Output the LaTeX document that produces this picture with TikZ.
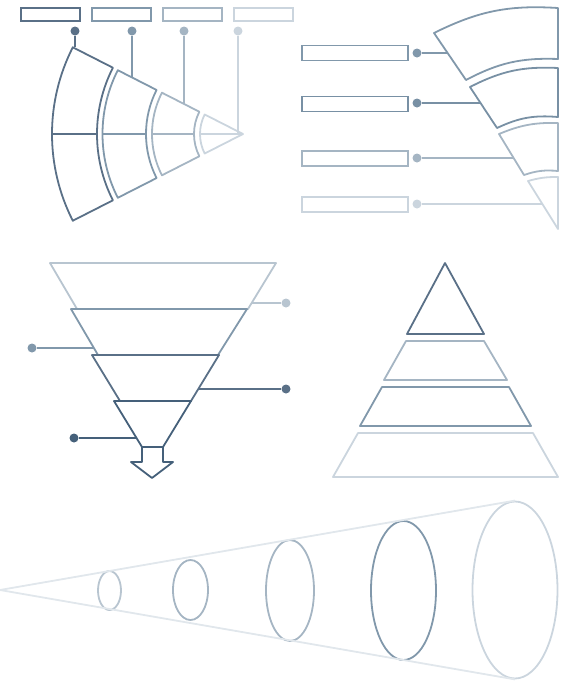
\documentclass[tikz,border=0pt]{standalone}
\usetikzlibrary{calc, shapes.geometric}

\definecolor{slateA}{HTML}{45607A}
\definecolor{slateB}{HTML}{5A7087}
\definecolor{slateC}{HTML}{8198AB}
\definecolor{slateD}{HTML}{A5B5C3}
\definecolor{slateE}{HTML}{CBD5DE}
\definecolor{slateF}{HTML}{E1E7EC}
\definecolor{slateG}{HTML}{B8C5D0}
\definecolor{slateH}{HTML}{7890A4}

% one ring of the fan: inner radius, outer radius, colour
\newcommand{\fanpart}[3]{%
  \draw[part, #3] ($(apex)+(207:#2)$) arc[start angle=207, end angle=153, radius=#2]
    -- ($(apex)+(153:#1)$) arc[start angle=153, end angle=207, radius=#1] -- cycle
    ($(apex)+(180:#1)$) -- ($(apex)+(180:#2)$);}

\begin{document}
\begin{tikzpicture}[
		x=1pt, y=-1pt,
		box/.style={draw, line width=1.8pt, minimum width=59pt, minimum height=13pt, inner sep=0pt},
		wide/.style={box, minimum width=106pt, minimum height=15pt},
		dot/.style={circle, fill, inner sep=0pt, minimum size=9pt},
		wire/.style={line width=1.8pt},
		part/.style={line width=1.8pt, line join=round},
		ring/.style={ellipse, draw, line width=1.8pt, inner sep=0pt}
		]
		\useasboundingbox (0,0) rectangle (567,681);
		
		% Fan chart
		\coordinate (apex) at (243,134);
		\fanpart{146}{191}{slateB}
		\fanpart{97}{140.5}{slateC}
		\fanpart{49}{91}{slateD}
		\draw[part, slateE] ($(apex)+(207:43)$) arc[start angle=207, end angle=153, radius=43] -- (apex) -- cycle
			($(apex)+(180:43)$) -- (apex);
		
		\node[box, slateB] (b1) at (50.5,14.5) {};
		\node[box, slateC] (b2) at (121.5,14.5) {};
		\node[box, slateD] (b3) at (192.5,14.5) {};
		\node[box, slateE] (b4) at (263.5,14.5) {};
		
		\node[dot, slateB] (d1) at (75,31) {};
		\node[dot, slateC] (d2) at (132,31) {};
		\node[dot, slateD] (d3) at (184,31) {};
		\node[dot, slateE] (d4) at (238,31) {};
		
		\coordinate (t1) at (75,47);
		\coordinate (t2) at (132,77);
		\coordinate (t3) at (184,104);
		\coordinate (t4) at (238,134);
		\draw[wire, slateB] (d1) -- (t1);
		\draw[wire, slateC] (d2) -- (t2);
		\draw[wire, slateD] (d3) -- (t3);
		\draw[wire, slateE] (d4) -- (t4);
		
		% Curved segments
		\draw[part, slateC] (434,33) to[bend left=15] (558,8) -- (558,59) to[bend right=15] (466,80) -- cycle;
		\draw[part, slateH] (470,87) to[bend left=15] (558,68) -- (558,117) to[bend right=15] (497,128) -- cycle;
		\draw[part, slateD] (499,134) to[bend left=12] (558,123) -- (558,171) to[bend right=12] (524,175) -- cycle;
		\draw[part, slateE] (528,181) to[bend left=8] (558,177) -- (558,229) -- cycle;
		
		\node[wide, slateC] (w1) at (355,53) {};
		\node[wide, slateH] (w2) at (355,104) {};
		\node[wide, slateD] (w3) at (355,158.5) {};
		\node[wide, slateE] (w4) at (355,204.5) {};
		
		\node[dot, slateC] (p1) at (417,53) {};
		\node[dot, slateH] (p2) at (417,103) {};
		\node[dot, slateD] (p3) at (417,158) {};
		\node[dot, slateE] (p4) at (417,204) {};
		
		\coordinate (s1) at (447,53);
		\coordinate (s2) at (480,103);
		\coordinate (s3) at (513,158);
		\coordinate (s4) at (542,204);
		\draw[wire, slateC] (p1) -- (s1);
		\draw[wire, slateH] (p2) -- (s2);
		\draw[wire, slateD] (p3) -- (s3);
		\draw[wire, slateE] (p4) -- (s4);
		
		% Funnel
		\draw[part, slateG] (50,263) -- (276,263) -- (248,309) -- (77,309) -- cycle;
		\draw[part, slateC] (71,309) -- (247,309) -- (218,355) -- (98,355) -- cycle;
		\draw[part, slateB] (92,355) -- (219,355) -- (191,401) -- (120,401) -- cycle;
		\draw[part, slateA] (114,401) -- (191,401) -- (163,447) -- (142,447) -- cycle;
		\draw[part, slateA] (142,447) -- (142,462) -- (131,462) -- (152,478) -- (173,462) -- (163,462) -- (163,447);
		
		\node[dot, slateG] (f1) at (286,303) {};
		\node[dot, slateC] (f2) at (32,348) {};
		\node[dot, slateB] (f3) at (286,389) {};
		\node[dot, slateA] (f4) at (74,438) {};
		
		\coordinate (g1) at (251,303);
		\coordinate (g2) at (94,348);
		\coordinate (g3) at (198,389);
		\coordinate (g4) at (137,438);
		\draw[wire, slateG] (f1) -- (g1);
		\draw[wire, slateC] (f2) -- (g2);
		\draw[wire, slateB] (f3) -- (g3);
		\draw[wire, slateA] (f4) -- (g4);
		
		% Pyramid
		\draw[part, slateB] (445,263) -- (484,334) -- (407,334) -- cycle;
		\draw[part, slateD] (406,341) -- (484,341) -- (507,380) -- (384,380) -- cycle;
		\draw[part, slateC] (382,387) -- (509,387) -- (531,426) -- (360,426) -- cycle;
		\draw[part, slateE] (358,433) -- (533,433) -- (558,477) -- (333,477) -- cycle;
		
		% Cone
		\coordinate (tip) at (0,590);
		\node[ring, slateG, minimum width=23pt, minimum height=39pt] (e1) at (109.5,590.5) {};
		\node[ring, slateD, minimum width=35pt, minimum height=60pt] (e2) at (190.5,590) {};
		\node[ring, slateD, minimum width=48pt, minimum height=101pt] (e3) at (290,590.5) {};
		\node[ring, slateC, minimum width=65pt, minimum height=139pt] (e4) at (403.5,590.5) {};
		\node[ring, slateE, minimum width=85pt, minimum height=177pt] (e5) at (515,590) {};
		\draw[wire, slateF] (tip) -- (e5.north);
		\draw[wire, slateF] (tip) -- (e5.south);
		
	\end{tikzpicture}
\end{document}
